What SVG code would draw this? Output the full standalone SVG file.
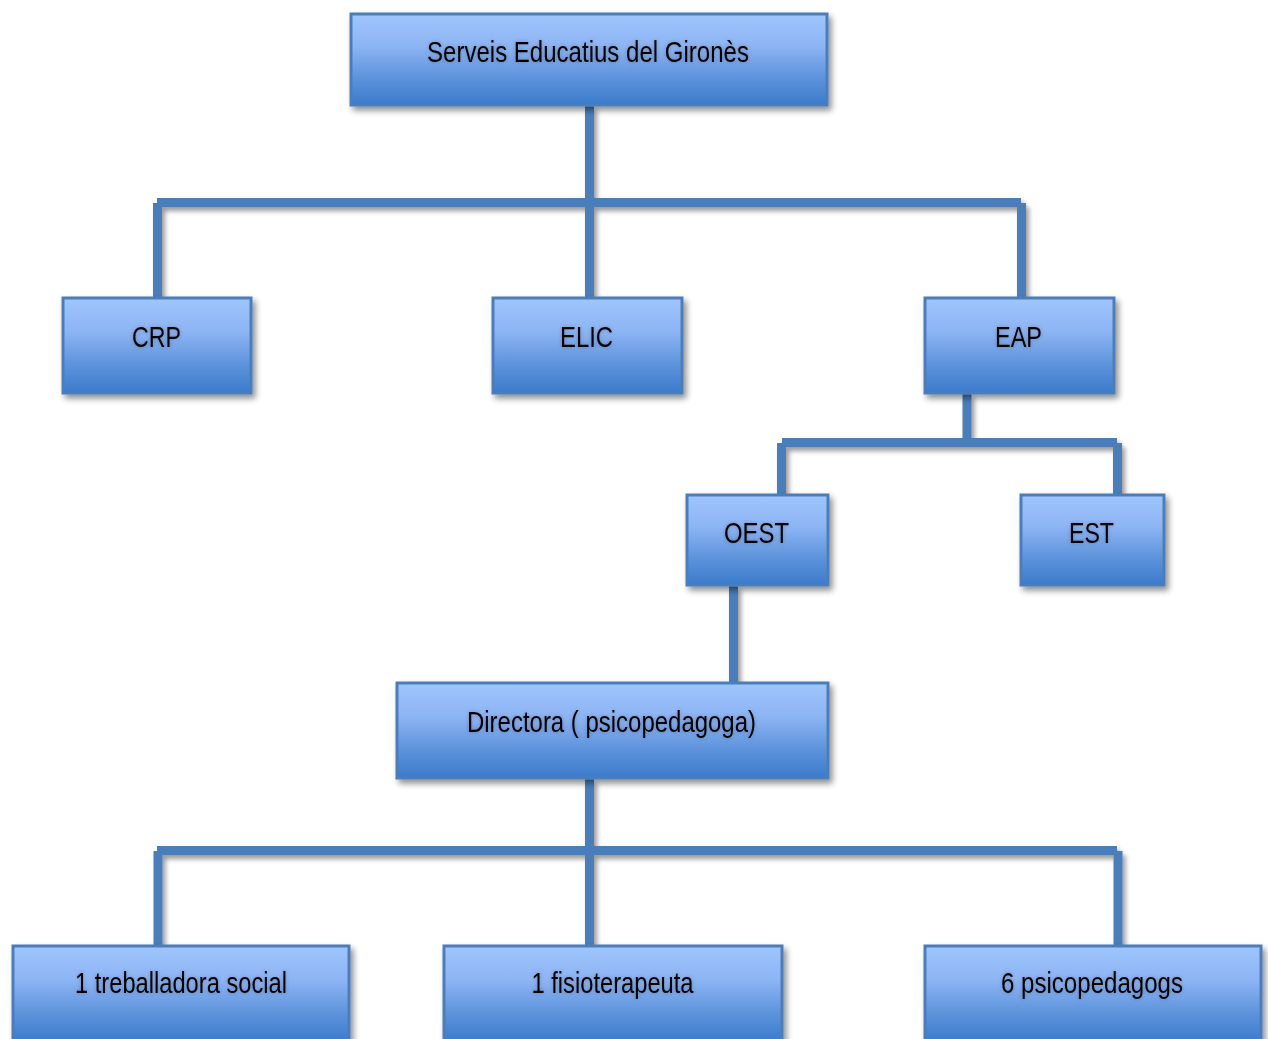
<svg xmlns="http://www.w3.org/2000/svg" width="1268" height="1039" viewBox="0 0 1268 1039">
<defs>
<linearGradient id="boxGrad" x1="0" y1="0" x2="0" y2="1">
<stop offset="0" stop-color="#a0c5fd"/>
<stop offset="0.35" stop-color="#8db5f4"/>
<stop offset="0.7" stop-color="#5d93dc"/>
<stop offset="1" stop-color="#3b7bcb"/>
</linearGradient>
<filter id="shadow" x="-10%" y="-10%" width="125%" height="130%">
<feGaussianBlur in="SourceAlpha" stdDeviation="3"/>
<feOffset dx="3" dy="4" result="b"/>
<feComponentTransfer><feFuncA type="linear" slope="0.45"/></feComponentTransfer>
<feMerge><feMergeNode/><feMergeNode in="SourceGraphic"/></feMerge>
</filter>
<filter id="lineShadow" x="-50%" y="-50%" width="200%" height="200%">
<feGaussianBlur in="SourceAlpha" stdDeviation="2.5"/>
<feOffset dx="3" dy="4" result="b"/>
<feComponentTransfer><feFuncA type="linear" slope="0.4"/></feComponentTransfer>
<feMerge><feMergeNode/><feMergeNode in="SourceGraphic"/></feMerge>
</filter>
<filter id="textGlow" x="-10%" y="-30%" width="120%" height="160%">
<feGaussianBlur in="SourceAlpha" stdDeviation="2"/>
<feComponentTransfer><feFuncA type="linear" slope="0.25"/></feComponentTransfer>
<feMerge><feMergeNode/><feMergeNode in="SourceGraphic"/></feMerge>
</filter>
</defs>
<style>
.box{fill:url(#boxGrad);stroke:#4a7ebb;stroke-width:3;filter:url(#shadow);}
.lbl{font-family:"Liberation Sans",Arial,sans-serif;font-size:30px;fill:#000;text-anchor:middle;filter:url(#textGlow);}
.con{stroke:#4a7ebb;stroke-width:9;fill:none;stroke-linecap:butt;}
</style>
<rect width="1268" height="1039" fill="#ffffff"/>
<g id="connectors" filter="url(#lineShadow)">
<line class="con" x1="589.5" y1="106" x2="589.5" y2="297"/>
<line class="con" x1="157" y1="202.5" x2="1021" y2="202.5"/>
<line class="con" x1="157.5" y1="203" x2="157.5" y2="297"/>
<line class="con" x1="1021.5" y1="203" x2="1021.5" y2="297"/>
<line class="con" x1="967" y1="394" x2="967" y2="443"/>
<line class="con" x1="782" y1="442.5" x2="1117" y2="442.5"/>
<line class="con" x1="781.5" y1="443" x2="781.5" y2="494"/>
<line class="con" x1="1117.5" y1="443" x2="1117.5" y2="494"/>
<line class="con" x1="733.5" y1="586" x2="733.5" y2="682"/>
<line class="con" x1="589.5" y1="779" x2="589.5" y2="945"/>
<line class="con" x1="157" y1="850.5" x2="1117" y2="850.5"/>
<line class="con" x1="158" y1="851" x2="158" y2="945"/>
<line class="con" x1="1118" y1="851" x2="1118" y2="945"/>
</g>
<g id="node-serveis">
<rect class="box" x="351" y="14" width="476" height="91"/>
<text class="lbl" x="588" y="62" textLength="322" lengthAdjust="spacingAndGlyphs">Serveis Educatius del Gironès</text>
</g>
<g id="node-crp">
<rect class="box" x="63" y="298" width="188" height="95"/>
<text class="lbl" x="156.5" y="347" textLength="49" lengthAdjust="spacingAndGlyphs">CRP</text>
</g>
<g id="node-elic">
<rect class="box" x="493" y="298" width="189" height="95"/>
<text class="lbl" x="586.5" y="347" textLength="53" lengthAdjust="spacingAndGlyphs">ELIC</text>
</g>
<g id="node-eap">
<rect class="box" x="925" y="298" width="189" height="95"/>
<text class="lbl" x="1018.5" y="347" textLength="47" lengthAdjust="spacingAndGlyphs">EAP</text>
</g>
<g id="node-oest">
<rect class="box" x="687" y="495" width="141" height="90"/>
<text class="lbl" x="756.5" y="543" textLength="65" lengthAdjust="spacingAndGlyphs">OEST</text>
</g>
<g id="node-est">
<rect class="box" x="1021" y="495" width="143" height="90"/>
<text class="lbl" x="1091.5" y="543" textLength="45" lengthAdjust="spacingAndGlyphs">EST</text>
</g>
<g id="node-directora">
<rect class="box" x="397" y="683" width="431" height="95"/>
<text class="lbl" x="611.5" y="732" textLength="289" lengthAdjust="spacingAndGlyphs">Directora ( psicopedagoga)</text>
</g>
<g id="node-treballadora">
<rect class="box" x="13" y="946" width="336" height="96"/>
<text class="lbl" x="181" y="993" textLength="212" lengthAdjust="spacingAndGlyphs">1 treballadora social</text>
</g>
<g id="node-fisioterapeuta">
<rect class="box" x="444" y="946" width="338" height="96"/>
<text class="lbl" x="612.5" y="993" textLength="162" lengthAdjust="spacingAndGlyphs">1 fisioterapeuta</text>
</g>
<g id="node-psicopedagogs">
<rect class="box" x="925" y="946" width="336" height="96"/>
<text class="lbl" x="1092" y="993" textLength="182" lengthAdjust="spacingAndGlyphs">6 psicopedagogs</text>
</g>
</svg>
